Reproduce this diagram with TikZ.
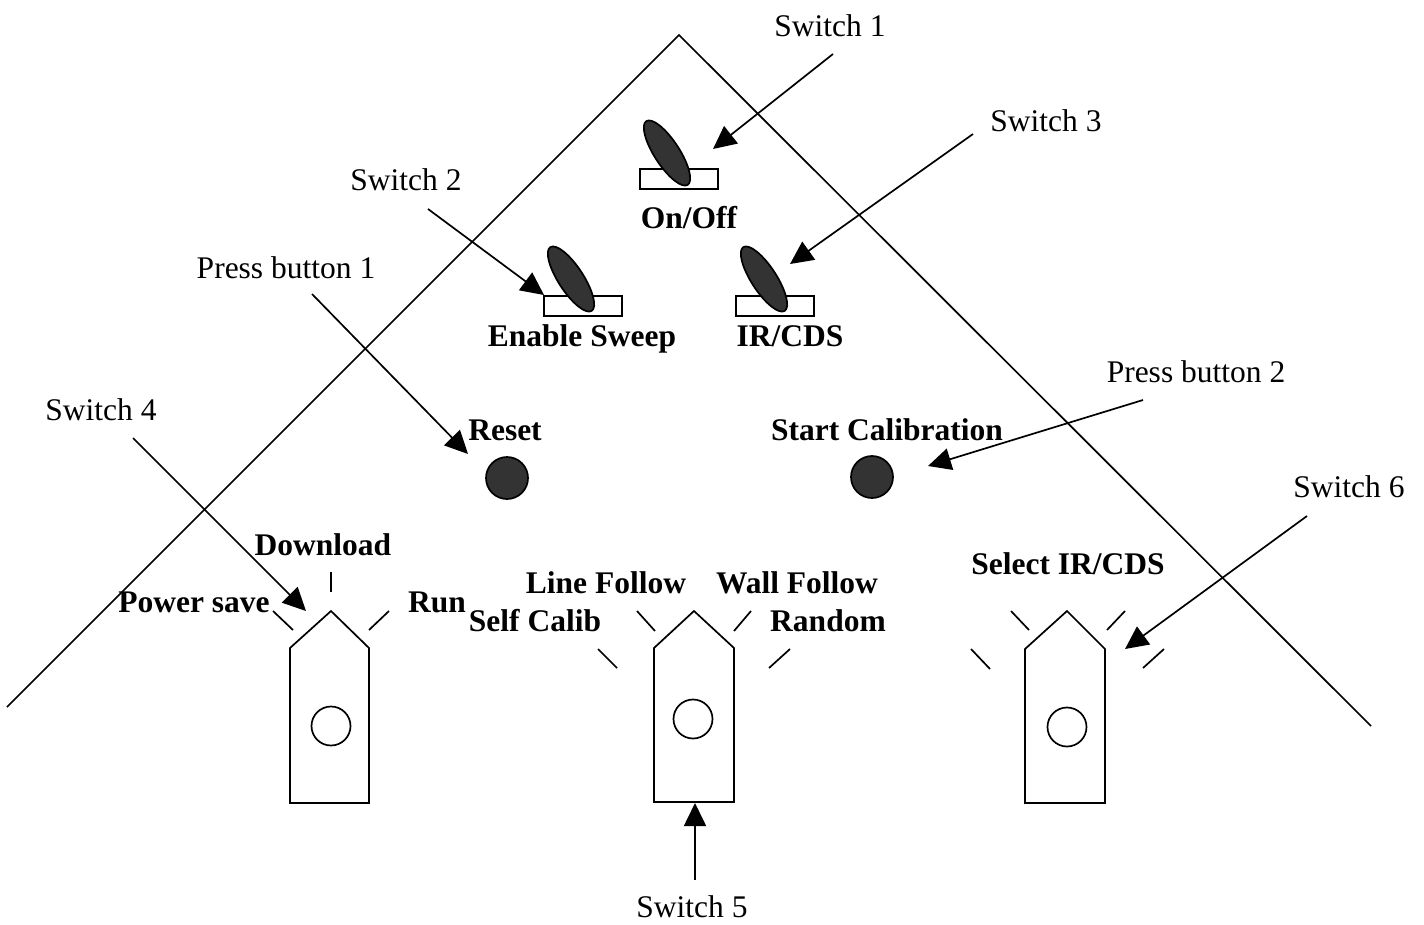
\documentclass[tikz,border=0pt]{standalone}
\usepackage{fontspec}
\setmainfont{Liberation Serif}
\usetikzlibrary{arrows.meta,shapes.geometric}
\definecolor{knob}{HTML}{333333}
\tikzset{
  ln/.style={line width=1.7pt,black},
  ptr/.style={ln,-{Triangle[length=23pt,width=22pt]},shorten >=0pt},
  lab/.style={anchor=base,inner sep=0pt,font=\fontsize{31.5}{36}\selectfont},
  blab/.style={lab,font=\fontsize{31.5}{36}\selectfont\bfseries},
  base/.style={draw,ln,fill=white,rectangle,minimum width=78pt,minimum height=20pt,inner sep=0pt,outer sep=0pt},
  lever/.style={draw,ln,fill=knob,ellipse,minimum width=76pt,minimum height=25pt,inner sep=0pt,rotate=-57},
  push/.style={draw,ln,fill=knob,circle,minimum size=42pt,inner sep=0pt},
  hole/.style={draw,ln,fill=white,circle,minimum size=39pt,inner sep=0pt},
}
\begin{document}
\begin{tikzpicture}[x=1pt,y=-1pt]
\useasboundingbox (0,0) rectangle (1424,924);
% roof
\coordinate (roofL) at (7,707);
\coordinate (roofT) at (679,35);
\coordinate (roofR) at (1371,726);
\draw[ln,line join=miter] (roofL) -- (roofT) -- (roofR);
% toggle switches
\node[base] (base1) at (679,179) {};
\node[lever] (lever1) at (667,153) {};
\node[base] (base2) at (583,306) {};
\node[lever] (lever2) at (571,279) {};
\node[base] (base3) at (775,306) {};
\node[lever] (lever3) at (764,279) {};
% push buttons
\node[push] (btn1) at (507,478) {};
\node[push] (btn2) at (872,477) {};
% rotary bodies
\draw[ln,line join=miter] (290,648) -- (331,611) -- (369,648) -- (369,803) -- (290,803) -- cycle;
\node[hole] (hole1) at (331,726) {};
\draw[ln,line join=miter] (654,648) -- (694,611) -- (734,648) -- (734,802) -- (654,802) -- cycle;
\node[hole] (hole2) at (693,719) {};
\draw[ln,line join=miter] (1025,649) -- (1067,611) -- (1105,649) -- (1105,803) -- (1025,803) -- cycle;
\node[hole] (hole3) at (1067,727) {};
% ticks
\draw[ln] (331,572) -- (331,592);
\draw[ln] (273,611) -- (293,630);
\draw[ln] (369,630) -- (389,611);
\draw[ln] (637,611) -- (655,631);
\draw[ln] (734,631) -- (751,611);
\draw[ln] (598,649) -- (617,668);
\draw[ln] (769,668) -- (790,649);
\draw[ln] (1011,611) -- (1029,630);
\draw[ln] (1107,630) -- (1125,611);
\draw[ln] (971,649) -- (990,669);
\draw[ln] (1143,668) -- (1164,649);
% labels
\node[lab] (s1) at (830,36) {Switch 1};
\node[lab] (s3) at (1046,131) {Switch 3};
\node[lab] (s2) at (406,190) {Switch 2};
\node[lab] (p1) at (286,278) {Press button 1};
\node[lab] (s4) at (101,420) {Switch 4};
\node[lab] (p2) at (1196,382) {Press button 2};
\node[lab] (s6) at (1349,497) {Switch 6};
\node[lab] (s5) at (692,917) {Switch 5};
\node[blab] (onoff) at (689,228) {On/Off};
\node[blab] (sweep) at (582,346) {Enable Sweep};
\node[blab] (ircds) at (790,346) {IR/CDS};
\node[blab] (reset) at (505,440) {Reset};
\node[blab] (calib) at (887,440) {Start Calibration};
\node[blab] (dl) at (323,555) {Download};
\node[blab] (line) at (606,593) {Line Follow};
\node[blab] (wall) at (797,593) {Wall Follow};
\node[blab] (psave) at (194,612) {Power save};
\node[blab] (run) at (437,612) {Run};
\node[blab] (selfc) at (535,631) {Self Calib};
\node[blab] (rand) at (828,631) {Random};
\node[blab] (sel) at (1068,574) {Select IR/CDS};
% arrow ends
\coordinate (a1) at (833,54);   \coordinate (b1) at (713,149);
\coordinate (a3) at (973,134);  \coordinate (b3) at (790,264);
\coordinate (a2) at (428,209);  \coordinate (b2) at (544,295);
\coordinate (a7) at (312,294);  \coordinate (b7) at (468,454);
\coordinate (a8) at (1143,400); \coordinate (b8) at (928,466);
\coordinate (a4) at (133,438);  \coordinate (b4) at (306,611);
\coordinate (a6) at (1307,516); \coordinate (b6) at (1125,649);
\coordinate (a5) at (695,880);  \coordinate (b5) at (695,803);
\foreach \n in {1,...,8} \draw[ptr] (a\n) -- (b\n);
\end{tikzpicture}
\end{document}
